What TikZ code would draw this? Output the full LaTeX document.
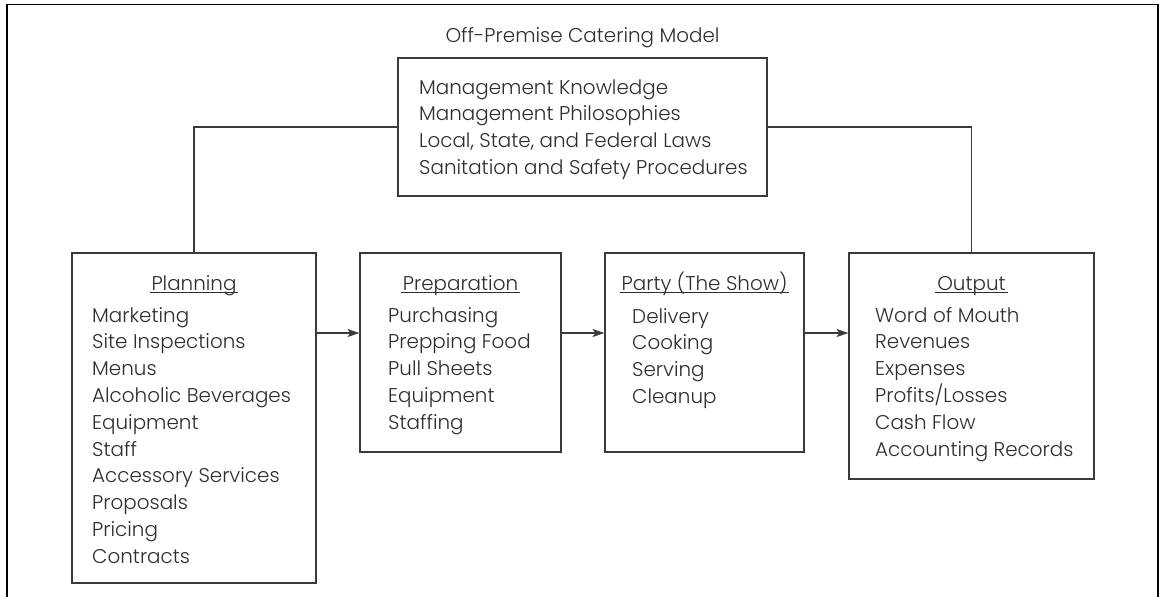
\documentclass[tikz,border=0pt]{standalone}
\usepackage{fontspec}
\setmainfont{Poppins}[UprightFont=* Light]
\usetikzlibrary{arrows.meta}
\definecolor{ink}{HTML}{2E2E2E}
\definecolor{linec}{HTML}{3A3A3A}
\newcommand\hul[1]{\setbox0\hbox{#1}\rlap{\kern-2pt\rule[-2.5pt]{\dimexpr\wd0+4pt\relax}{0.9pt}}\box0}
\tikzset{
  boxnode/.style={draw=linec, line width=1.1pt, rectangle, inner sep=0pt},
  txt/.style={inner sep=0pt, text=ink, font=\fontsize{19.9}{26.8}\selectfont},
  item/.style={txt, anchor=base west},
  head/.style={txt, anchor=base},
  conn/.style={draw=linec, line width=1.1pt},
  arr/.style={conn, -{Stealth[length=12pt,width=8pt,inset=3pt]}},
}
\begin{document}
\begin{tikzpicture}[x=1pt,y=-1pt]
\useasboundingbox (0,0) rectangle (1163,597);
\fill[white] (0,0) rectangle (1163,597);
% outer frame
\coordinate (fbl) at (7,620);
\coordinate (ftl) at (7,4.5);
\coordinate (ftr) at (1158,4.5);
\coordinate (fbr) at (1158,620);
\draw[line width=1.5pt, black] (fbl) -- (ftl) -- (ftr) -- (fbr);

\node[head] (title) at (582.5,42) {Off-Premise Catering Model};

% boxes
\node[boxnode, minimum width=369pt, minimum height=138pt] (top) at (582.5,127) {};
\node[boxnode, minimum width=244pt, minimum height=330pt] (plan) at (194,418) {};
\node[boxnode, minimum width=201pt, minimum height=199pt] (prep) at (460.5,352.5) {};
\node[boxnode, minimum width=199pt, minimum height=199pt] (party) at (704.5,352.5) {};
\node[boxnode, minimum width=245pt, minimum height=226pt] (out) at (971.5,366) {};

% top box text
\foreach \t [count=\i from 0] in {Management Knowledge, Management Philosophies, {Local, State, and Federal Laws}, Sanitation and Safety Procedures}
  \node[item] (top-\i) at (419,94+26.7*\i) {\t};

% planning
\node[head] (planh) at (194,290) {\hul{Planning}};
\foreach \t [count=\i from 0] in {Marketing, Site Inspections, Menus, Alcoholic Beverages, Equipment, Staff, Accessory Services, Proposals, Pricing, Contracts}
  \node[item] (plan-\i) at (92,322+26.8*\i) {\t};

% preparation
\node[head] (preph) at (460.5,290) {\hul{Preparation}};
\foreach \t [count=\i from 0] in {Purchasing, Prepping Food, Pull Sheets, Equipment, Staffing}
  \node[item] (prep-\i) at (388,322+26.8*\i) {\t};

% party
\node[head] (partyh) at (704.5,290) {\hul{Party (The Show)}};
\foreach \t [count=\i from 0] in {Delivery, Cooking, Serving, Cleanup}
  \node[item] (party-\i) at (632,323+26.8*\i) {\t};

% output
\node[head] (outh) at (971.5,290) {\hul{Output}};
\foreach \t [count=\i from 0] in {Word of Mouth, Revenues, Expenses, Profits/Losses, Cash Flow, Accounting Records}
  \node[item] (out-\i) at (875,322+26.8*\i) {\t};

% connectors
\draw[conn] (plan.north) |- (top.west);
\draw[conn] (out.north) |- (top.east);
\draw[arr] (plan.east |- 0,333) -- (prep.west |- 0,333);
\draw[arr] (prep.east |- 0,333) -- (party.west |- 0,333);
\draw[arr] (party.east |- 0,333) -- (out.west |- 0,333);
\end{tikzpicture}
\end{document}
